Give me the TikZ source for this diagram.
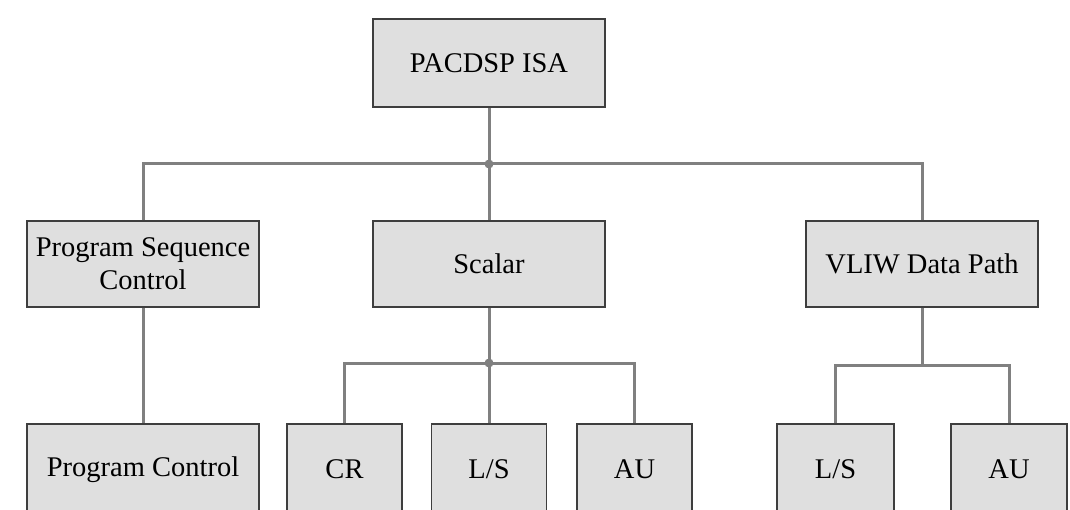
\documentclass[tikz,border=0pt]{standalone}
\usepackage{fontspec}
\setmainfont{Liberation Serif}
\begin{document}
\begin{tikzpicture}[x=1pt,y=-1pt,
  box/.style={draw=boxline,line width=1.8pt,fill=boxfill,inner sep=0pt,
    minimum width=232pt,minimum height=86pt,align=center,
    font=\fontsize{28.5}{33}\selectfont},
  small/.style={box,minimum width=115pt},
  leaf/.style={minimum height=92pt},
  conn/.style={draw=connline,line width=3pt},
  jdot/.style={fill=connline,draw=none}]
\definecolor{boxfill}{RGB}{223,223,223}
\definecolor{boxline}{RGB}{62,62,62}
\definecolor{connline}{RGB}{128,128,128}
\path[use as bounding box,clip] (0,0) rectangle (1070,510);
\fill[white] (0,0) rectangle (1070,510);

% boxes
\node[box,minimum height=88pt] (top) at (489,63) {PACDSP ISA};
\node[box] (psc) at (143,264) {Program Sequence\\Control};
\node[box] (scalar) at (489,264) {Scalar};
\node[box] (vliw) at (922,264) {VLIW Data Path};
\node[box,leaf] (pc) at (143,470) {\raisebox{2pt}{Program Control}};
\node[small,leaf] (cr) at (344.5,470) {\raisebox{2pt}{CR}};
\node[small,leaf] (ls1) at (489,470) {\raisebox{2pt}{L/S}};
\node[small,leaf] (au1) at (634.5,470) {\raisebox{2pt}{AU}};
\node[small,leaf,minimum width=117pt] (ls2) at (835.5,470) {\raisebox{2pt}{L/S}};
\node[small,leaf,minimum width=116pt] (au2) at (1009,470) {\raisebox{2pt}{AU}};

% junction points of the buses
\coordinate (b1) at (top.south |- 0,164);
\coordinate (b2) at (scalar.south |- 0,363);
\coordinate (b3) at (vliw.south |- 0,365);

% connectors
\path[conn] (top.south) -- (b1) -- (scalar.north);
\path[conn] (psc.north) |- (b1) -| (vliw.north);
\path[conn] (psc.south) -- (pc.north);
\path[conn] (scalar.south) -- (b2) -- (ls1.north);
\path[conn] (cr.north) |- (b2) -| (au1.north);
\path[conn] (vliw.south) -- (b3);
\path[conn] (ls2.north) |- (b3) -| (au2.north);
\fill[jdot] (b1) circle (4.5pt);
\fill[jdot] (b2) circle (4.5pt);
\end{tikzpicture}
\end{document}
